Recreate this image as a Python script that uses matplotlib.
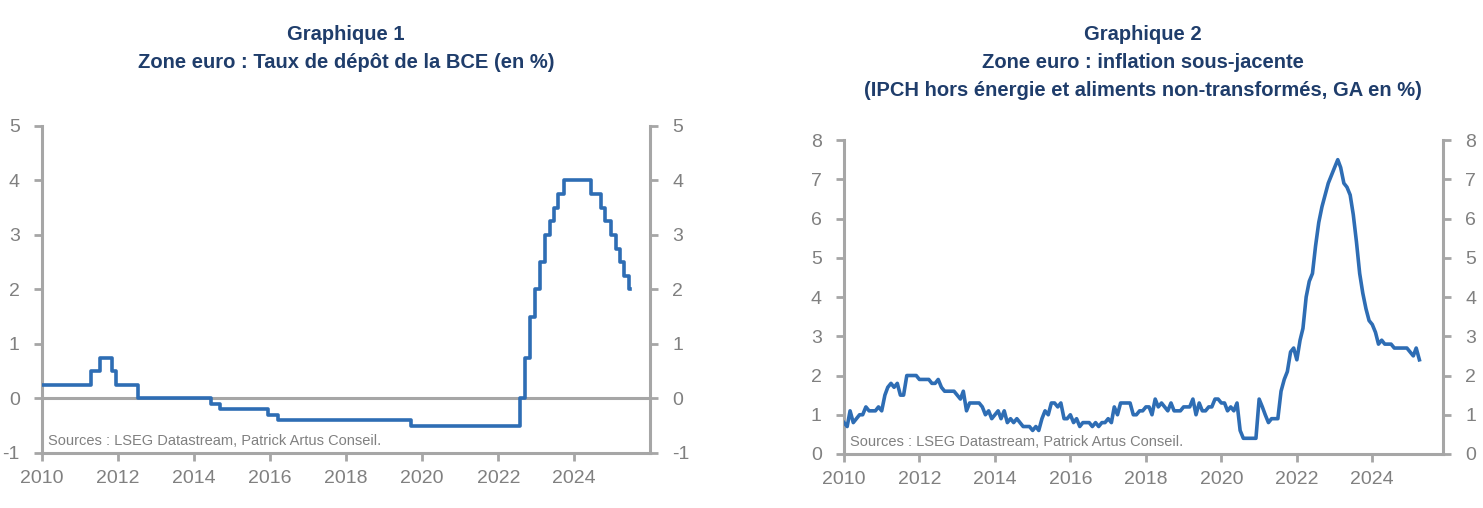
import matplotlib
matplotlib.use('Agg')
import matplotlib.pyplot as plt
import matplotlib.dates as mdates
from matplotlib import font_manager
import pandas as pd

# fonts: narrow sans if available, else Liberation Sans
names = {f.name for f in font_manager.fontManager.ttflist}
FONT = 'Liberation Sans Narrow' if 'Liberation Sans Narrow' in names else 'Liberation Sans'
plt.rcParams['font.family'] = [FONT, 'DejaVu Sans']

BLUE = '#2E6DB4'
GREY = '#A6A6A6'
TXT = '#808080'
NAVY = '#1F3D6B'
SOURCE = "Sources : LSEG Datastream, Patrick Artus Conseil."

# ---- Chart 1: ECB deposit facility rate (change dates, level in %)
rate_dates = ['2010-01-01', '2011-04-13', '2011-07-13', '2011-11-09', '2011-12-14',
              '2012-07-11', '2014-06-11', '2014-09-10', '2015-12-09', '2016-03-16',
              '2019-09-18', '2022-07-27', '2022-09-14', '2022-11-02', '2022-12-21',
              '2023-02-08', '2023-03-22', '2023-05-10', '2023-06-21', '2023-08-02',
              '2023-09-20', '2024-06-12', '2024-09-18', '2024-10-23', '2024-12-18',
              '2025-02-05', '2025-03-12', '2025-04-23', '2025-06-11', '2025-06-20']
rate_values = [0.25, 0.50, 0.75, 0.50, 0.25,
               0.00, -0.10, -0.20, -0.30, -0.40,
               -0.50, 0.00, 0.75, 1.50, 2.00,
               2.50, 3.00, 3.25, 3.50, 3.75,
               4.00, 3.75, 3.50, 3.25, 3.00,
               2.75, 2.50, 2.25, 2.00, 2.00]

# ---- Chart 2: core inflation (HICP ex energy & unprocessed food, y/y %), monthly from Jan 2010
core_start = '2010-01-01'
core_2010 = [0.8, 0.7, 1.1, 0.8, 0.9, 1.0, 1.0, 1.2, 1.1, 1.1, 1.1, 1.2]
core_2011 = [1.1, 1.5, 1.7, 1.8, 1.7, 1.8, 1.5, 1.5, 2.0, 2.0, 2.0, 2.0]
core_2012 = [1.9, 1.9, 1.9, 1.9, 1.8, 1.8, 1.9, 1.7, 1.6, 1.6, 1.6, 1.6]
core_2013 = [1.5, 1.4, 1.6, 1.1, 1.3, 1.3, 1.3, 1.3, 1.2, 1.0, 1.1, 0.9]
core_2014 = [1.0, 1.1, 0.9, 1.1, 0.8, 0.9, 0.8, 0.9, 0.8, 0.7, 0.7, 0.7]
core_2015 = [0.6, 0.7, 0.6, 0.9, 1.1, 1.0, 1.3, 1.3, 1.2, 1.3, 0.9, 0.9]
core_2016 = [1.0, 0.8, 0.9, 0.7, 0.8, 0.8, 0.8, 0.7, 0.8, 0.7, 0.8, 0.8]
core_2017 = [0.9, 0.8, 1.2, 1.0, 1.3, 1.3, 1.3, 1.3, 1.0, 1.0, 1.1, 1.1]
core_2018 = [1.2, 1.2, 1.0, 1.4, 1.2, 1.3, 1.2, 1.1, 1.3, 1.1, 1.1, 1.1]
core_2019 = [1.2, 1.2, 1.2, 1.4, 1.0, 1.3, 1.1, 1.1, 1.2, 1.2, 1.4, 1.4]
core_2020 = [1.3, 1.3, 1.1, 1.2, 1.1, 1.3, 0.6, 0.4, 0.4, 0.4, 0.4, 0.4]
core_2021 = [1.4, 1.2, 1.0, 0.8, 0.9, 0.9, 0.9, 1.6, 1.9, 2.1, 2.6, 2.7]
core_2022 = [2.4, 2.9, 3.2, 4.0, 4.4, 4.6, 5.3, 5.9, 6.3, 6.6, 6.9, 7.1]
core_2023 = [7.3, 7.5, 7.3, 6.9, 6.8, 6.6, 6.1, 5.4, 4.6, 4.1, 3.7, 3.4]
core_2024 = [3.3, 3.1, 2.8, 2.9, 2.8, 2.8, 2.8, 2.7, 2.7, 2.7, 2.7, 2.7]
core_2025 = [2.6, 2.5, 2.7, 2.4]


def style_axes(ax, ylim, yticks, xend):
    ax.set_xlim(pd.Timestamp('2010-01-01'), pd.Timestamp(xend))
    ax.set_ylim(*ylim)
    ax.set_yticks(yticks)
    ax.set_yticklabels([f"{t:g}" for t in yticks])
    ax.xaxis.set_major_locator(mdates.YearLocator(2))
    ax.xaxis.set_major_formatter(mdates.DateFormatter('%Y'))
    for s in ['left', 'right', 'bottom']:
        ax.spines[s].set_color(GREY)
        ax.spines[s].set_linewidth(2.2)
    ax.spines['top'].set_visible(False)
    ax.tick_params(axis='both', colors=GREY, width=2, length=6, direction='out',
                   labelcolor=TXT, labelsize=14, pad=6)
    ax.tick_params(axis='y', right=True, labelright=True, pad=10)
    ax.text(0.01, 0.015, SOURCE, transform=ax.transAxes, color=TXT, fontsize=10.5,
            ha='left', va='bottom')


fig = plt.figure(figsize=(14.83, 5.08), dpi=100)

# Chart 1
ax1 = fig.add_axes([0.0283, 0.1083, 0.41, 0.6437])
d1 = pd.to_datetime(rate_dates)
ax1.axhline(0, color=GREY, linewidth=2.2, zorder=1)
ax1.step(d1, rate_values, where='post', color=BLUE, linewidth=2.6, zorder=3)
style_axes(ax1, (-1, 5), list(range(-1, 6)), '2025-12-28')

# Chart 2
ax2 = fig.add_axes([0.5691, 0.1063, 0.4039, 0.618])
core = (core_2010 + core_2011 + core_2012 + core_2013 + core_2014 + core_2015 +
        core_2016 + core_2017 + core_2018 + core_2019 + core_2020 + core_2021 +
        core_2022 + core_2023 + core_2024 + core_2025)
d2 = pd.date_range(core_start, periods=len(core), freq='MS')
ax2.plot(d2, core, color=BLUE, linewidth=2.6, zorder=3)
style_axes(ax2, (0, 8), list(range(0, 9)), '2025-11-15')

# Titles
tkw = dict(ha='center', va='center', color=NAVY, fontsize=14.5, fontweight='bold')
c1 = 346 / 1483
c2 = 1143 / 1483
fig.text(c1, 1 - 35 / 508, "Graphique 1", **tkw)
fig.text(c1, 1 - 62 / 508, "Zone euro : Taux de dépôt de la BCE (en %)", **tkw)
fig.text(c2, 1 - 35 / 508, "Graphique 2", **tkw)
fig.text(c2, 1 - 62 / 508, "Zone euro : inflation sous-jacente", **tkw)
fig.text(c2, 1 - 90 / 508, "(IPCH hors énergie et aliments non-transformés, GA en %)", **tkw)

fig.savefig('out.png', dpi=100)
